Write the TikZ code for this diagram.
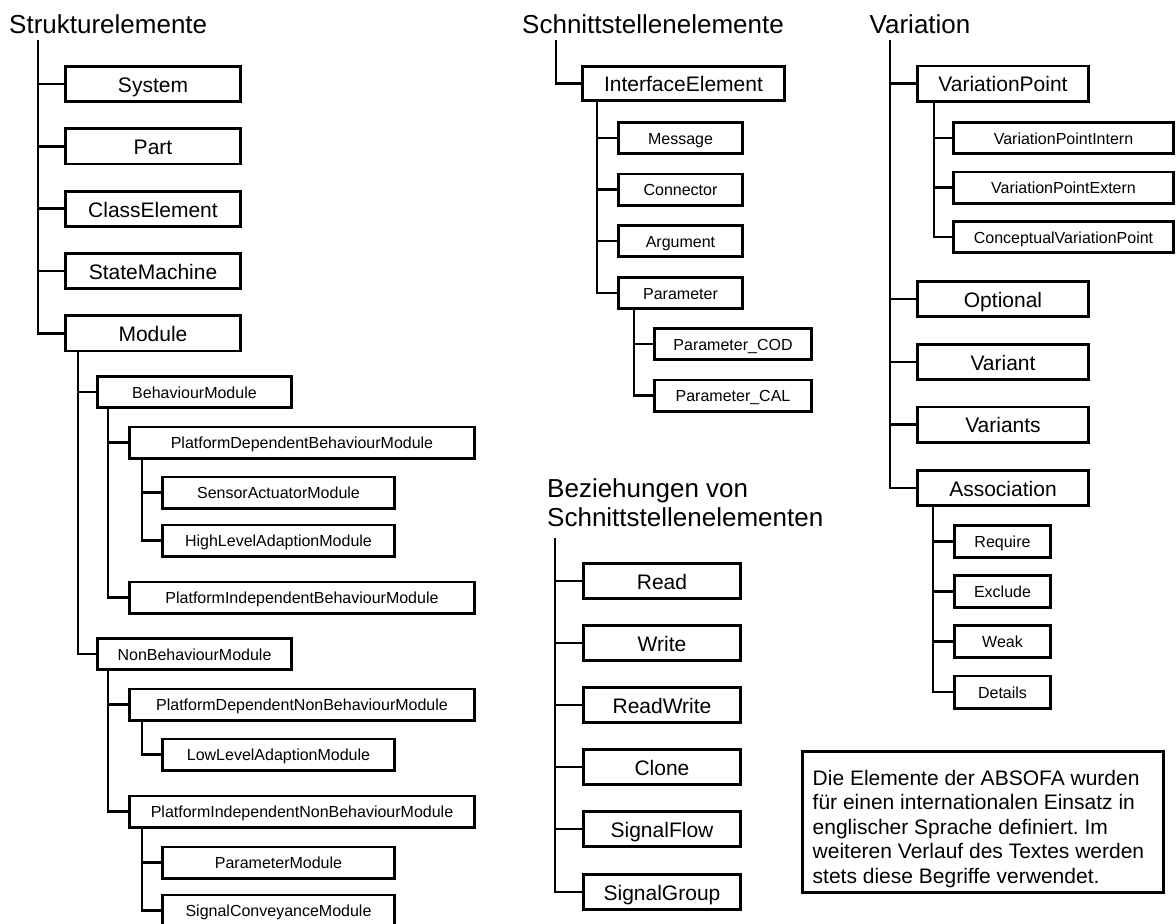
\documentclass[tikz,border=0pt]{standalone}
\usepackage{fontspec}
\setmainfont{Liberation Sans}
\usetikzlibrary{calc}
\frenchspacing
\begin{document}
\begin{tikzpicture}[x=1pt,y=-1pt,
  lw/.style={line width=2.8pt},
  frame/.style={draw, lw, inner sep=0pt, text depth=0pt},
  bigbox/.style={frame, text height=16.6pt, font=\fontsize{21}{24}\selectfont},
  smallbox/.style={frame, text height=12.4pt, font=\fontsize{16}{19}\selectfont},
  wh/.style 2 args={minimum width=#1, minimum height=#2},
  heading/.style={inner sep=0pt, font=\fontsize{26}{29}\selectfont},
  link/.style={draw, lw},
]
\useasboundingbox (0,0) rectangle (1176,924);

% ---------------- Strukturelemente ----------------
\node[heading, anchor=base west] (tStr) at (9,33) {Strukturelemente};
\coordinate (tStr0) at (38,40);
\tikzset{sbig/.style={bigbox, wh={175.2pt}{35.2pt}}}
\node[sbig] (sys)  at (153,84)    {System};
\node[sbig] (part) at (153,146.3) {Part};
\node[sbig] (cls)  at (153,208.7) {ClassElement};
\node[sbig] (sm)   at (153,271)   {StateMachine};
\node[sbig] (mod)  at (153,333.4) {Module};
\foreach \n in {sys,part,cls,sm,mod} \draw[link] (tStr0) |- (\n.west);

\tikzset{smid/.style={smallbox, wh={194.2pt}{31.2pt}},
         swide/.style={smallbox, wh={345.2pt}{31.2pt}},
         sleaf/.style={smallbox, wh={232.2pt}{31.2pt}}}
\node[smid] (bm)  at (194.5,392) {BehaviourModule};
\node[smid] (nbm) at (194.5,654) {NonBehaviourModule};
\coordinate (tMod) at ($(mod.south west)+(14,0)$);
\draw[link] (tMod) |- (bm.west);
\draw[link] (tMod) |- (nbm.west);

\node[swide] (pdbm) at (302,442.5) {PlatformDependentBehaviourModule};
\node[swide] (pibm) at (302,597.5) {PlatformIndependentBehaviourModule};
\coordinate (tBm) at ($(bm.south west)+(12,0)$);
\draw[link] (tBm) |- (pdbm.west);
\draw[link] (tBm) |- (pibm.west);

\node[sleaf] (sam)  at (278.5,492.5) {SensorActuatorModule};
\node[sleaf] (hlam) at (278.5,540.5) {HighLevelAdaptionModule};
\coordinate (tPdbm) at ($(pdbm.south west)+(14,0)$);
\draw[link] (tPdbm) |- (sam.west);
\draw[link] (tPdbm) |- (hlam.west);

\node[swide] (pdnbm) at (302,704.5) {PlatformDependentNonBehaviourModule};
\node[swide] (pinbm) at (302,811.5) {PlatformIndependentNonBehaviourModule};
\coordinate (tNbm) at ($(nbm.south west)+(12,0)$);
\draw[link] (tNbm) |- (pdnbm.west);
\draw[link] (tNbm) |- (pinbm.west);

\node[sleaf] (llam) at (278.5,754.5) {LowLevelAdaptionModule};
\coordinate (tPdnbm) at ($(pdnbm.south west)+(14,0)$);
\draw[link] (tPdnbm) |- (llam.west);

\node[sleaf] (pm)  at (278.5,862.5) {ParameterModule};
\node[sleaf] (scm) at (278.5,910.5) {SignalConveyanceModule};
\coordinate (tPinbm) at ($(pinbm.south west)+(14,0)$);
\draw[link] (tPinbm) |- (pm.west);
\draw[link] (tPinbm) |- (scm.west);

% ---------------- Schnittstellenelemente ----------------
\node[heading, anchor=base west] (tSch) at (522,33) {Schnittstellenelemente};
\coordinate (tSch0) at (556,40);
\node[bigbox, wh={202.2pt}{34.2pt}] (ie) at (683.5,83.5) {InterfaceElement};
\draw[link] (tSch0) |- (ie.west);

\tikzset{ibox/.style={smallbox, wh={124.2pt}{31.2pt}}}
\node[ibox] (msg) at (680.5,138)   {Message};
\node[ibox] (con) at (680.5,189.5) {Connector};
\node[ibox] (arg) at (680.5,241)   {Argument};
\node[ibox] (par) at (680.5,293)   {Parameter};
\coordinate (tIe) at ($(ie.south west)+(16,0)$);
\foreach \n in {msg,con,arg,par} \draw[link] (tIe) |- (\n.west);

\tikzset{pbox/.style={smallbox, wh={157.2pt}{31.2pt}}}
\node[pbox] (pcod) at (733,344)   {Parameter\_COD};
\node[pbox] (pcal) at (733,395.5) {Parameter\_CAL};
\coordinate (tPar) at ($(par.south west)+(17,0)$);
\draw[link] (tPar) |- (pcod.west);
\draw[link] (tPar) |- (pcal.west);

% ---------------- Beziehungen von Schnittstellenelementen ----------------
\node[heading, anchor=north west, align=left] (tBez) at (547,478)
  {Beziehungen von\\Schnittstellenelementen};
\coordinate (tBez0) at (555,538);
\tikzset{rbox/.style={bigbox, wh={157.2pt}{35.2pt}}}
\node[rbox] (rd)  at (662,581) {Read};
\node[rbox] (wr)  at (662,643) {Write};
\node[rbox] (rw)  at (662,705) {ReadWrite};
\node[rbox] (cl)  at (662,767) {Clone};
\node[rbox] (sf)  at (662,829) {SignalFlow};
\node[rbox] (sg)  at (662,892) {SignalGroup};
\foreach \n in {rd,wr,rw,cl,sf,sg} \draw[link] (tBez0) |- (\n.west);

% ---------------- Variation ----------------
\node[heading, anchor=base west] (tVar) at (869.5,33) {Variation};
\coordinate (tVar0) at (890,40);
\tikzset{vbig/.style={bigbox, wh={171.2pt}{35.2pt}}}
\node[vbig] (vp)  at (1003,83.5) {VariationPoint};
\node[vbig] (opt) at (1003,299)  {Optional};
\node[vbig] (vnt) at (1003,362)  {Variant};
\node[vbig] (vns) at (1003,424.5){Variants};
\node[vbig] (asc) at (1003,488)  {Association};
\foreach \n in {vp,opt,vnt,vns,asc} \draw[link] (tVar0) |- (\n.west);

\tikzset{vpbox/.style={smallbox, wh={220.2pt}{31.2pt}}}
\node[vpbox] (vpi) at (1063.5,138)   {VariationPointIntern};
\node[vpbox] (vpe) at (1063.5,187.5) {VariationPointExtern};
\node[vpbox] (cvp) at (1063.5,237)   {ConceptualVariationPoint};
\coordinate (tVp) at ($(vp.south west)+(18,0)$);
\foreach \n in {vpi,vpe,cvp} \draw[link] (tVp) |- (\n.west);

\tikzset{abox/.style={smallbox, wh={96.2pt}{32.2pt}}}
\node[abox] (req) at (1002.5,541.5) {Require};
\node[abox] (exc) at (1002.5,591.5) {Exclude};
\node[abox] (wk)  at (1002.5,641.5) {Weak};
\node[abox] (det) at (1002.5,692)   {Details};
\coordinate (tAsc) at ($(asc.south west)+(17,0)$);
\foreach \n in {req,exc,wk,det} \draw[link] (tAsc) |- (\n.west);

% ---------------- note ----------------
\node[draw, lw, inner sep=0pt, wh={361.2pt}{141.2pt}] (note) at (983,822) {};
\node[inner sep=0pt, anchor=north west, align=left,
      font=\fontsize{21}{24.5}\selectfont] (notetext) at (812.5,769)
  {\rule{0pt}{16pt}Die Elemente der ABSOFA wurden\\
   für einen internationalen Einsatz in\\
   englischer Sprache definiert. Im\\
   weiteren Verlauf des Textes werden\\
   stets diese Begriffe verwendet.};
\end{tikzpicture}
\end{document}
